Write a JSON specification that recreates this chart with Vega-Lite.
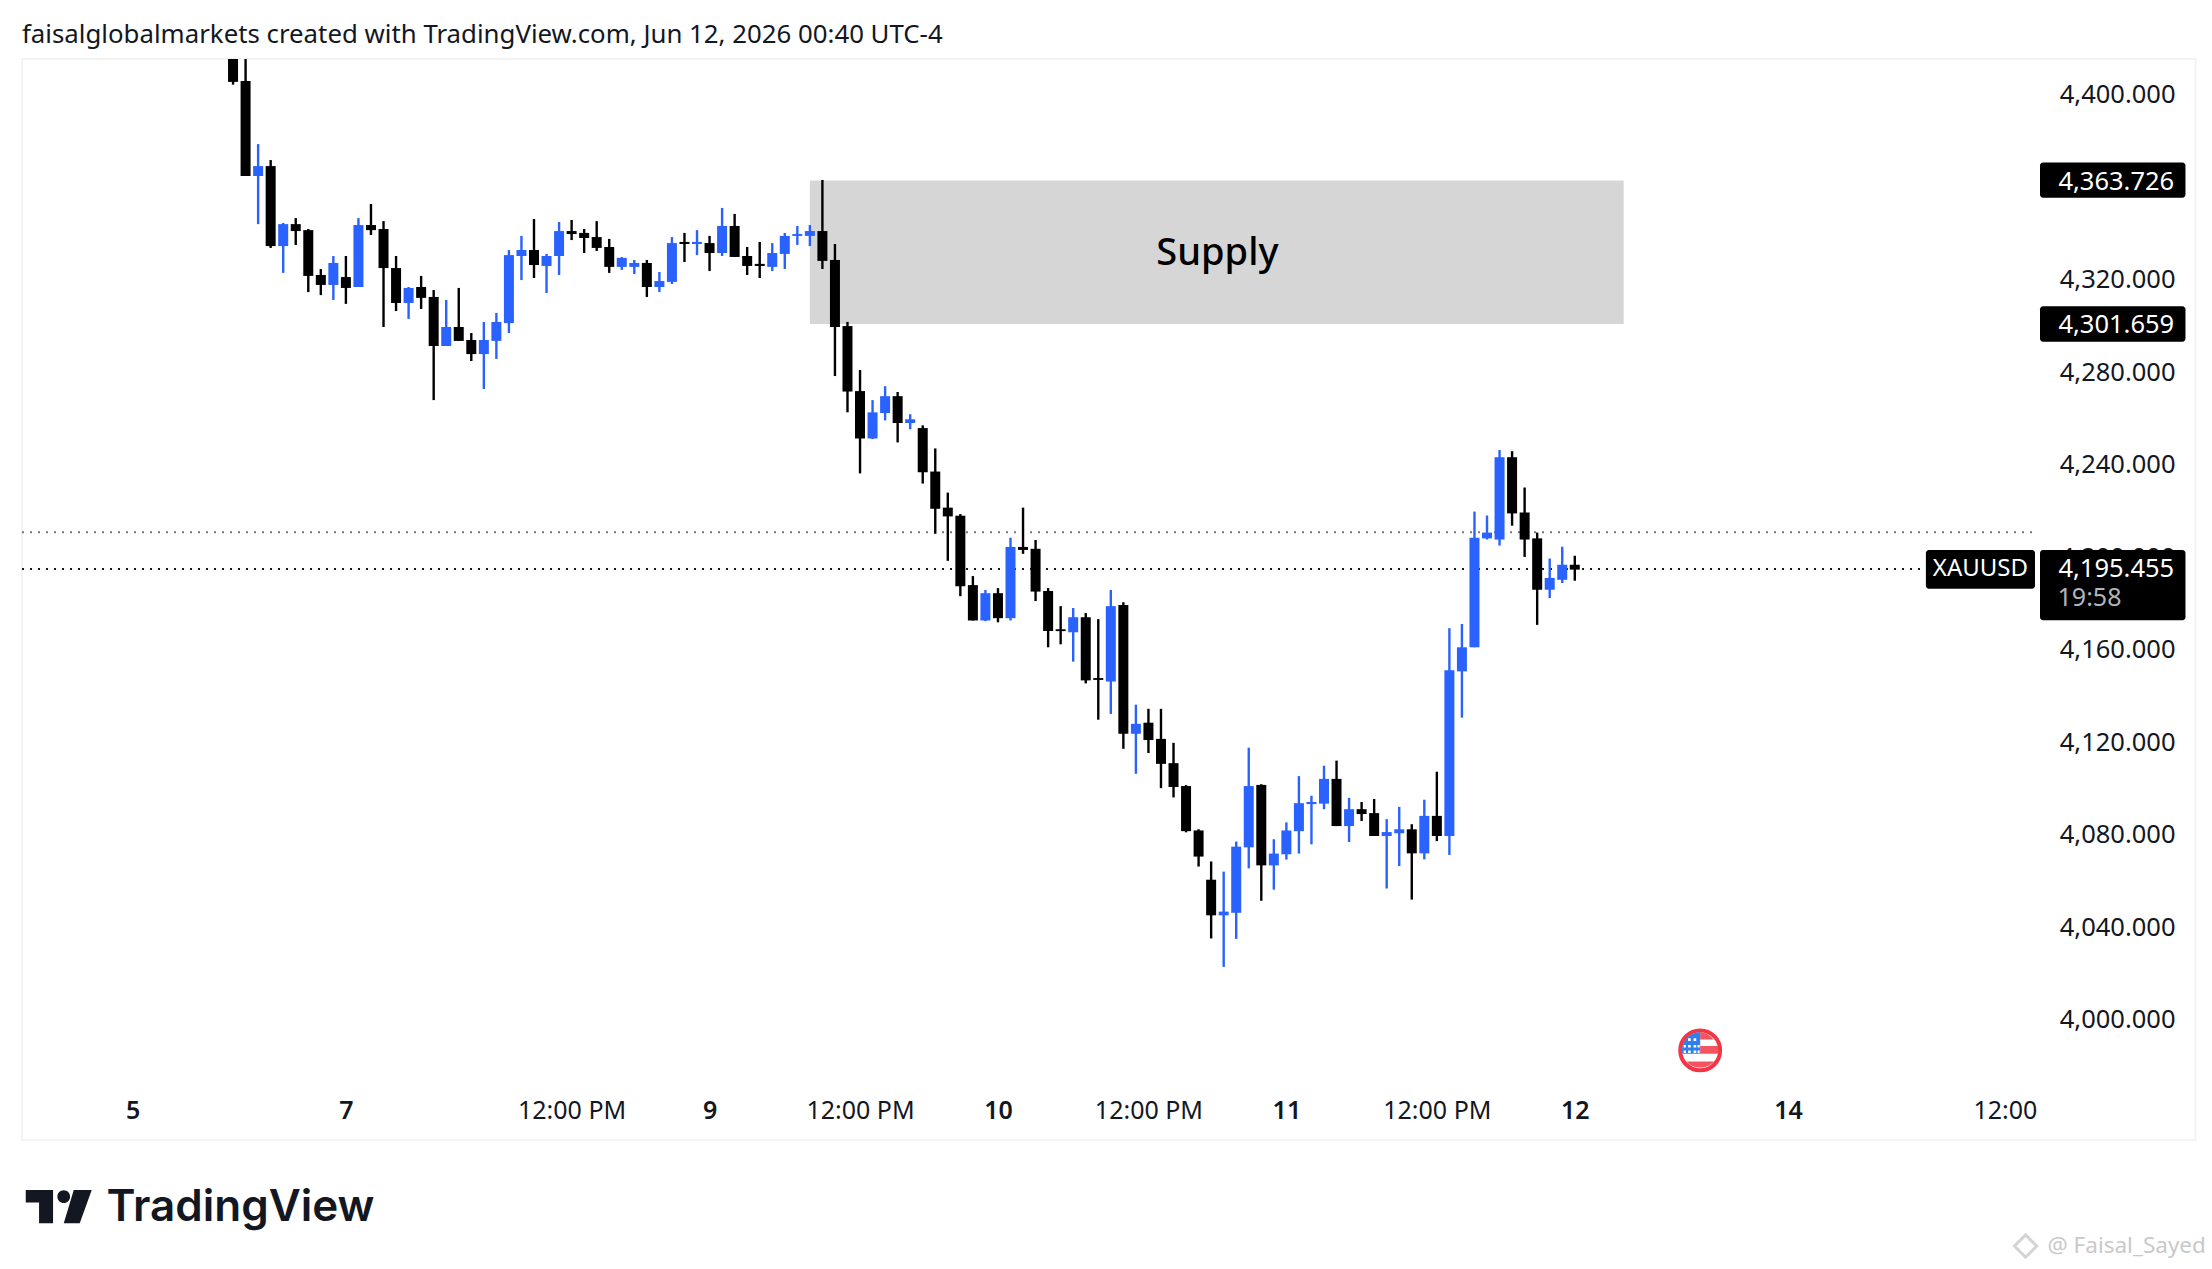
{
  "$schema": "https://vega.github.io/schema/vega-lite/v6.json",
  "width": 2016,
  "height": 1030,
  "autosize": "none",
  "padding": {"left": 22, "top": 59, "right": 174, "bottom": 180},
  "background": "#ffffff",
  "title": {
    "text": "faisalglobalmarkets created with TradingView.com, Jun 12, 2026 00:40 UTC-4",
    "anchor": "start",
    "frame": "group",
    "font": "Noto Sans",
    "fontSize": 25.8,
    "fontWeight": "normal",
    "color": "#131722",
    "offset": 9.5
  },
  "config": {"view": {"stroke": null}},
  "datasets": {
    "candles": [
      {"i":0,"open":4425,"high":4430,"low":4405.2,"close":4406.4},
      {"i":1,"open":4406.8,"high":4430,"low":4365.7,"close":4365.7},
      {"i":2,"open":4365.7,"high":4379.5,"low":4344.9,"close":4370},
      {"i":3,"open":4370,"high":4372.6,"low":4334.6,"close":4335.4},
      {"i":4,"open":4335.4,"high":4345.4,"low":4323.8,"close":4344.9},
      {"i":5,"open":4344.9,"high":4347.5,"low":4335.9,"close":4341.9},
      {"i":6,"open":4342.3,"high":4342.8,"low":4315.5,"close":4322.5},
      {"i":7,"open":4322.9,"high":4325.5,"low":4314.2,"close":4318.6},
      {"i":8,"open":4318.6,"high":4331.1,"low":4312.1,"close":4328.1},
      {"i":9,"open":4322,"high":4331.1,"low":4310.4,"close":4317.3},
      {"i":10,"open":4317.7,"high":4347.5,"low":4317.7,"close":4344.5},
      {"i":11,"open":4344.5,"high":4353.6,"low":4340.2,"close":4342.3},
      {"i":12,"open":4342.8,"high":4346.2,"low":4300.4,"close":4325.9},
      {"i":13,"open":4325.9,"high":4331.1,"low":4307.3,"close":4310.8},
      {"i":14,"open":4310.8,"high":4317.7,"low":4303.9,"close":4317.3},
      {"i":15,"open":4317.7,"high":4322.5,"low":4308.2,"close":4313},
      {"i":16,"open":4313.4,"high":4316.4,"low":4268.8,"close":4292.2},
      {"i":17,"open":4292.2,"high":4312.1,"low":4292.2,"close":4300.4},
      {"i":18,"open":4300.4,"high":4317.3,"low":4294.4,"close":4294.4},
      {"i":19,"open":4294.8,"high":4297.8,"low":4285.7,"close":4288.7},
      {"i":20,"open":4288.7,"high":4302.6,"low":4273.6,"close":4294.8},
      {"i":21,"open":4294.4,"high":4306.5,"low":4286.6,"close":4302.6},
      {"i":22,"open":4302.1,"high":4333.7,"low":4297.8,"close":4331.5},
      {"i":23,"open":4331.1,"high":4339.8,"low":4320.7,"close":4333.7},
      {"i":24,"open":4333.7,"high":4347.1,"low":4321.6,"close":4327.2},
      {"i":25,"open":4326.8,"high":4332,"low":4315.1,"close":4331.1},
      {"i":26,"open":4331.1,"high":4345.8,"low":4322.9,"close":4341.9},
      {"i":27,"open":4341.9,"high":4346.7,"low":4338,"close":4340.6},
      {"i":28,"open":4341.1,"high":4342.8,"low":4332.4,"close":4338.9},
      {"i":29,"open":4339.3,"high":4346.2,"low":4333.3,"close":4334.6},
      {"i":30,"open":4335,"high":4338.5,"low":4323.8,"close":4326.4},
      {"i":31,"open":4326.4,"high":4330.7,"low":4325.1,"close":4330.3},
      {"i":32,"open":4326.4,"high":4329.4,"low":4323.3,"close":4328.1},
      {"i":33,"open":4328.1,"high":4329.4,"low":4313.4,"close":4317.7},
      {"i":34,"open":4317.7,"high":4324.2,"low":4315.5,"close":4320.3},
      {"i":35,"open":4319.9,"high":4339.3,"low":4319,"close":4336.7},
      {"i":36,"open":4337.2,"high":4341.1,"low":4328.5,"close":4336.3},
      {"i":37,"open":4336.3,"high":4342.3,"low":4331.5,"close":4337.2},
      {"i":38,"open":4336.7,"high":4339.8,"low":4324.6,"close":4332.4},
      {"i":39,"open":4332.4,"high":4351.9,"low":4331.1,"close":4344.1},
      {"i":40,"open":4344.1,"high":4349.3,"low":4330.7,"close":4330.7},
      {"i":41,"open":4331.1,"high":4335,"low":4322.9,"close":4326.8},
      {"i":42,"open":4327.7,"high":4337.2,"low":4321.6,"close":4326.8},
      {"i":43,"open":4326.4,"high":4336.7,"low":4324.6,"close":4332.4},
      {"i":44,"open":4332,"high":4341.1,"low":4325.5,"close":4339.8},
      {"i":45,"open":4339.8,"high":4344.1,"low":4335.9,"close":4340.6},
      {"i":46,"open":4339.8,"high":4344.5,"low":4335.4,"close":4341.9},
      {"i":47,"open":4341.9,"high":4364,"low":4325.5,"close":4329},
      {"i":48,"open":4329.4,"high":4336.3,"low":4279.2,"close":4300.4},
      {"i":49,"open":4300.8,"high":4302.6,"low":4263.5,"close":4272.5},
      {"i":50,"open":4272.7,"high":4281.8,"low":4237.1,"close":4252.2},
      {"i":51,"open":4252.2,"high":4268.8,"low":4251.9,"close":4263.5},
      {"i":52,"open":4263.2,"high":4274.8,"low":4260,"close":4270.5},
      {"i":53,"open":4270.5,"high":4272.3,"low":4250.5,"close":4258.9},
      {"i":54,"open":4258.9,"high":4262.7,"low":4256.2,"close":4260.5},
      {"i":55,"open":4256.7,"high":4257.9,"low":4232.7,"close":4237.6},
      {"i":56,"open":4237.9,"high":4247.9,"low":4211,"close":4221.8},
      {"i":57,"open":4222.3,"high":4228.8,"low":4199.3,"close":4218.5},
      {"i":58,"open":4218.8,"high":4219.5,"low":4184,"close":4188.3},
      {"i":59,"open":4188.8,"high":4192.7,"low":4173.5,"close":4173.5},
      {"i":60,"open":4173.5,"high":4186.7,"low":4173.2,"close":4185.3},
      {"i":61,"open":4185.3,"high":4187.5,"low":4172.7,"close":4174.5},
      {"i":62,"open":4174.5,"high":4209.3,"low":4173.5,"close":4205.3},
      {"i":63,"open":4205.3,"high":4222.3,"low":4202.3,"close":4204},
      {"i":64,"open":4204.5,"high":4208.3,"low":4181.9,"close":4186},
      {"i":65,"open":4186.2,"high":4187.5,"low":4161.9,"close":4168.9},
      {"i":66,"open":4169.7,"high":4179.7,"low":4163.2,"close":4168.9},
      {"i":67,"open":4168.4,"high":4178.9,"low":4155.7,"close":4174.9},
      {"i":68,"open":4174.9,"high":4176.7,"low":4146.3,"close":4147.6},
      {"i":69,"open":4148.6,"high":4174.1,"low":4130.6,"close":4147.8},
      {"i":70,"open":4147.1,"high":4186.7,"low":4133.1,"close":4179.7},
      {"i":71,"open":4180.2,"high":4181.4,"low":4118,"close":4124.5},
      {"i":72,"open":4124.5,"high":4137.1,"low":4107.2,"close":4128.8},
      {"i":73,"open":4129.3,"high":4135.3,"low":4116.2,"close":4121.8},
      {"i":74,"open":4122.3,"high":4135.3,"low":4101,"close":4111.5},
      {"i":75,"open":4111.8,"high":4120.6,"low":4097,"close":4101.5},
      {"i":76,"open":4101.9,"high":4102.3,"low":4081.9,"close":4082.4},
      {"i":77,"open":4082.7,"high":4083.2,"low":4067.1,"close":4071.4},
      {"i":78,"open":4061.4,"high":4069.3,"low":4036,"close":4046},
      {"i":79,"open":4046,"high":4064.9,"low":4023.7,"close":4047.6},
      {"i":80,"open":4047.1,"high":4077.9,"low":4035.8,"close":4075.7},
      {"i":81,"open":4075.4,"high":4118.5,"low":4066.3,"close":4101.9},
      {"i":82,"open":4102.4,"high":4102.7,"low":4052.3,"close":4067.6},
      {"i":83,"open":4067.6,"high":4078.9,"low":4057.1,"close":4072.7},
      {"i":84,"open":4072.4,"high":4086.2,"low":4070.1,"close":4082.7},
      {"i":85,"open":4082.4,"high":4106.2,"low":4072.7,"close":4094.5},
      {"i":86,"open":4094.1,"high":4097.7,"low":4076.7,"close":4095},
      {"i":87,"open":4094.3,"high":4110.7,"low":4091.9,"close":4105},
      {"i":88,"open":4105,"high":4112.9,"low":4084.6,"close":4084.6},
      {"i":89,"open":4084.6,"high":4096.8,"low":4077.7,"close":4091.9},
      {"i":90,"open":4091.9,"high":4095,"low":4086.8,"close":4089.8},
      {"i":91,"open":4090.2,"high":4096.3,"low":4080.3,"close":4080.3},
      {"i":92,"open":4080.3,"high":4087.6,"low":4057.6,"close":4082},
      {"i":93,"open":4081.5,"high":4092.9,"low":4067.3,"close":4083.2},
      {"i":94,"open":4083.2,"high":4085.4,"low":4052.8,"close":4072.8},
      {"i":95,"open":4072.8,"high":4096,"low":4070.2,"close":4089},
      {"i":96,"open":4089,"high":4108.1,"low":4078.1,"close":4080.3},
      {"i":97,"open":4080.3,"high":4170.2,"low":4072.1,"close":4152},
      {"i":98,"open":4151.5,"high":4172,"low":4131.5,"close":4161.9},
      {"i":99,"open":4161.9,"high":4220.6,"low":4161.9,"close":4209.3},
      {"i":100,"open":4209,"high":4218.9,"low":4208.5,"close":4211.5},
      {"i":101,"open":4208.5,"high":4247.2,"low":4205.9,"close":4244.1},
      {"i":102,"open":4244.1,"high":4246.7,"low":4214.5,"close":4219.8},
      {"i":103,"open":4220.2,"high":4231,"low":4201,"close":4208.5},
      {"i":104,"open":4209,"high":4211.5,"low":4171.6,"close":4186.8},
      {"i":105,"open":4186.8,"high":4200.3,"low":4183.2,"close":4191.9},
      {"i":106,"open":4191.1,"high":4205.4,"low":4189.7,"close":4197.6},
      {"i":107,"open":4197.6,"high":4201.5,"low":4190.7,"close":4195.5}
    ],
    "lines": [
      {"price":4211.6,"from":-16.83,"to":143.9,"tone":"prev"},
      {"price":4195.8,"from":-16.83,"to":135,"tone":"last"}
    ],
    "tags": [
      {"from":144.1,"to":155.7,"top":4371.5,"bottom":4356.3},
      {"from":144.1,"to":155.7,"top":4309.4,"bottom":4294},
      {"from":135,"to":143.7,"top":4204,"bottom":4187.2},
      {"from":144.1,"to":155.7,"top":4204,"bottom":4173.6}
    ],
    "tagText": [
      {"i":154.8,"price":4363.3,"text":"4,363.726"},
      {"i":154.8,"price":4301.2,"text":"4,301.659"},
      {"i":154.8,"price":4195.8,"text":"4,195.455"}
    ]
  },
  "layer": [
    {
      "data": {"values": [{"left":-16.83,"right":156.5,"top":4416.3,"bottom":3948.8}]},
      "mark": {"type": "rect", "fill": null, "stroke": "#f3f3f3", "strokeWidth": 2, "clip": false},
      "encoding": {
        "x": {"field": "left", "type": "quantitative", "scale": {"domain": [-16.83, 143.94], "nice": false, "zero": false, "padding": 0},
          "axis": {
            "values": [-8, 9, 27, 38, 50, 61, 73, 84, 96, 107, 124, 141.3],
            "labelExpr": "{'-8':'5','9':'7','27':'12:00 PM','38':'9','50':'12:00 PM','61':'10','73':'12:00 PM','84':'11','96':'12:00 PM','107':'12','124':'14','141.3':'12:00'}[datum.value]",
            "title": null, "grid": false, "domain": false, "ticks": false,
            "labelFont": "Noto Sans", "labelFontSize": 25, "labelColor": "#131722", "labelPadding": 9, "labelAngle": 0,
            "labelFlush": false, "labelOverlap": false,
            "labelFontWeight": {"condition": {"test": "datum.value == -8 || datum.value == 9 || datum.value == 38 || datum.value == 61 || datum.value == 84 || datum.value == 107 || datum.value == 124", "value": 600}, "value": 400}
          }},
        "x2": {"field": "right"},
        "y": {"field": "top", "type": "quantitative", "scale": {"domain": [3970.9, 4416.3], "nice": false, "zero": false},
          "axis": {
            "orient": "right",
            "values": [4000, 4040, 4080, 4120, 4160, 4200, 4240, 4280, 4320, 4400],
            "format": ",.3f",
            "title": null, "grid": false, "domain": false, "ticks": false,
            "labelFont": "Noto Sans", "labelFontSize": 25.5, "labelColor": "#131722", "labelAlign": "right",
            "labelPadding": 137, "labelOffset": -2, "labelFlush": false, "labelOverlap": false
          }},
        "y2": {"field": "bottom"}
      }
    },
    {
      "data": {"values": [{"from":46,"to":110.9,"top":4363.726,"bottom":4301.659}]},
      "mark": {"type": "rect", "fill": "#d6d6d6"},
      "encoding": {
        "x": {"field": "from", "type": "quantitative"},
        "x2": {"field": "to"},
        "y": {"field": "top", "type": "quantitative"},
        "y2": {"field": "bottom"}
      }
    },
    {
      "data": {"values": [{"i":78.5,"price":4332,"text":"Supply"}]},
      "mark": {"type": "text", "font": "Noto Sans", "fontSize": 38, "fontWeight": 500, "color": "#000000"},
      "encoding": {
        "x": {"field": "i", "type": "quantitative"},
        "y": {"field": "price", "type": "quantitative"},
        "text": {"field": "text"}
      }
    },
    {
      "data": {"name": "lines"},
      "mark": {"type": "rule", "strokeDash": [2, 6], "strokeWidth": 2},
      "encoding": {
        "x": {"field": "from", "type": "quantitative"},
        "x2": {"field": "to"},
        "y": {"field": "price", "type": "quantitative"},
        "color": {"field": "tone", "type": "nominal", "legend": null,
          "scale": {"domain": ["prev", "last"], "range": ["#787878", "#1a1a1a"]}}
      }
    },
    {
      "data": {"name": "candles"},
      "mark": {"type": "rule", "strokeWidth": 2.4, "clip": true},
      "encoding": {
        "x": {"field": "i", "type": "quantitative"},
        "y": {"field": "low", "type": "quantitative"},
        "y2": {"field": "high"},
        "color": {"condition": {"test": "datum.close >= datum.open", "value": "#2962ff"}, "value": "#000000"}
      }
    },
    {
      "data": {"name": "candles"},
      "mark": {"type": "bar", "size": 10, "clip": true},
      "encoding": {
        "x": {"field": "i", "type": "quantitative"},
        "y": {"field": "open", "type": "quantitative"},
        "y2": {"field": "close"},
        "color": {"condition": {"test": "datum.close >= datum.open", "value": "#2962ff"}, "value": "#000000"}
      }
    },
    {
      "data": {"name": "tags"},
      "mark": {"type": "rect", "fill": "#000000", "cornerRadius": 3},
      "encoding": {
        "x": {"field": "from", "type": "quantitative"},
        "x2": {"field": "to"},
        "y": {"field": "top", "type": "quantitative"},
        "y2": {"field": "bottom"}
      }
    },
    {
      "data": {"name": "tagText"},
      "mark": {"type": "text", "font": "Noto Sans", "fontSize": 25.5, "align": "right", "color": "#ffffff"},
      "encoding": {
        "x": {"field": "i", "type": "quantitative"},
        "y": {"field": "price", "type": "quantitative"},
        "text": {"field": "text"}
      }
    },
    {
      "data": {"values": [{"i":145.5,"price":4183.2,"text":"19:58"}]},
      "mark": {"type": "text", "font": "Noto Sans", "fontSize": 25, "align": "left", "color": "#b2b5be"},
      "encoding": {
        "x": {"field": "i", "type": "quantitative"},
        "y": {"field": "price", "type": "quantitative"},
        "text": {"field": "text"}
      }
    },
    {
      "data": {"values": [{"i":139.35,"price":4195.6,"text":"XAUUSD"}]},
      "mark": {"type": "text", "font": "Noto Sans", "fontSize": 24, "color": "#ffffff"},
      "encoding": {
        "x": {"field": "i", "type": "quantitative"},
        "y": {"field": "price", "type": "quantitative"},
        "text": {"field": "text"}
      }
    },
    {
      "data": {"values": [{"i":-13.9,"price":3920}]},
      "mark": {"type": "point", "filled": true, "color": "#131722", "opacity": 1, "size": 4356,
        "shape": "M-1 -0.505 L-0.172 -0.505 L-0.172 0.505 L-0.596 0.505 L-0.596 -0.131 L-1 -0.131 Z M-0.04 -0.303 a0.192 0.192 0 1 0 0.384 0 a0.192 0.192 0 1 0 -0.384 0 Z M0.455 -0.505 L1 -0.505 L0.636 0.505 L0.152 0.505 Z"},
      "encoding": {
        "x": {"field": "i", "type": "quantitative"},
        "y": {"field": "price", "type": "quantitative"}
      }
    },
    {
      "data": {"values": [{"i":-10.1,"price":3919.6,"text":"TradingView"}]},
      "mark": {"type": "text", "font": "Inter", "fontSize": 44, "fontWeight": 600, "align": "left", "color": "#131722"},
      "encoding": {
        "x": {"field": "i", "type": "quantitative"},
        "y": {"field": "price", "type": "quantitative"},
        "text": {"field": "text"}
      }
    },
    {
      "data": {"values": [{"i":117,"price":3987.6}]},
      "mark": {"type": "point", "filled": true, "fill": "#ffffff", "stroke": "#f23645", "strokeWidth": 4, "opacity": 1, "size": 1590, "shape": "circle"},
      "encoding": {
        "x": {"field": "i", "type": "quantitative"},
        "y": {"field": "price", "type": "quantitative"}
      }
    },
    {
      "data": {"values": [{"i":117,"price":3987.6}]},
      "mark": {"type": "point", "filled": true, "color": "#f7525f", "opacity": 1, "size": 1936,
        "shape": "M0 -0.82 A0.82 0.82 0 0 1 0.6 -0.5 L0 -0.5 Z M0 -0.2 L0.81 -0.2 L0.82 0.15 L0 0.15 Z M-0.62 0.5 L0.62 0.5 A0.82 0.82 0 0 1 -0.62 0.5 Z"},
      "encoding": {
        "x": {"field": "i", "type": "quantitative"},
        "y": {"field": "price", "type": "quantitative"}
      }
    },
    {
      "data": {"values": [{"i":117,"price":3987.6}]},
      "mark": {"type": "point", "filled": true, "color": "#2f80ed", "opacity": 1, "size": 1936,
        "shape": "M-0.81 0.15 A0.82 0.82 0 0 1 0 -0.82 L0 0.15 Z"},
      "encoding": {
        "x": {"field": "i", "type": "quantitative"},
        "y": {"field": "price", "type": "quantitative"}
      }
    },
    {
      "data": {"values": [{"i":117,"price":3987.6}]},
      "mark": {"type": "point", "filled": true, "color": "#ffffff", "opacity": 1, "size": 1936,
        "shape": "M-0.55 -0.55 h0.12 v0.12 h-0.12 Z M-0.3 -0.55 h0.12 v0.12 h-0.12 Z M-0.55 -0.25 h0.12 v0.12 h-0.12 Z M-0.3 -0.25 h0.12 v0.12 h-0.12 Z M-0.55 0.0 h0.12 v0.12 h-0.12 Z M-0.3 0.0 h0.12 v0.12 h-0.12 Z M-0.75 -0.25 h0.1 v0.12 h-0.1 Z M-0.75 0.0 h0.1 v0.12 h-0.1 Z M-0.12 -0.25 h0.1 v0.12 h-0.1 Z M-0.12 0.0 h0.1 v0.12 h-0.1 Z"},
      "encoding": {
        "x": {"field": "i", "type": "quantitative"},
        "y": {"field": "price", "type": "quantitative"}
      }
    },
    {
      "data": {"values": [{"i":144.7,"price":3903,"text":"@ Faisal_Sayed"}]},
      "mark": {"type": "text", "font": "Noto Sans", "fontSize": 22.5, "align": "left", "color": "#c9c9c9"},
      "encoding": {
        "x": {"field": "i", "type": "quantitative"},
        "y": {"field": "price", "type": "quantitative"},
        "text": {"field": "text"}
      }
    },
    {
      "data": {"values": [{"i":142.95,"price":3903}]},
      "mark": {"type": "point", "filled": false, "stroke": "#d4d4d4", "strokeWidth": 3, "opacity": 1, "size": 500, "shape": "diamond"},
      "encoding": {
        "x": {"field": "i", "type": "quantitative"},
        "y": {"field": "price", "type": "quantitative"}
      }
    }
  ]
}
